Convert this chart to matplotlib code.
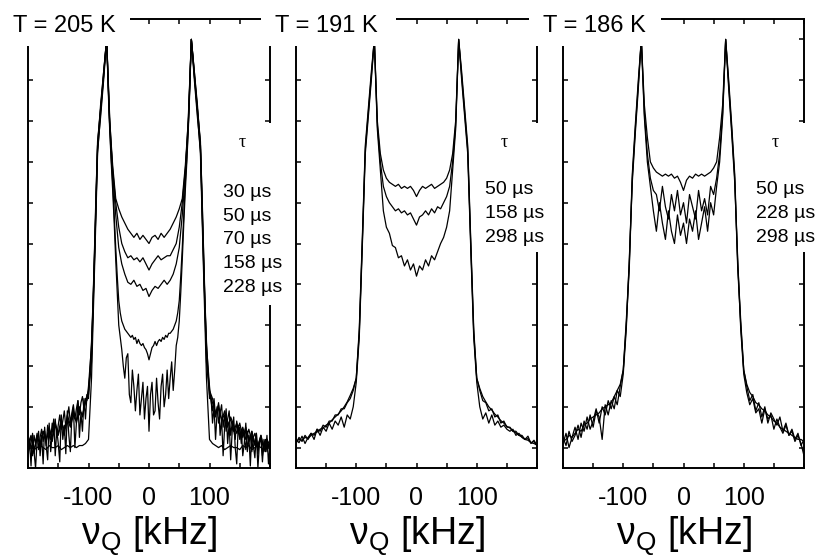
import numpy as np
import matplotlib
matplotlib.use("Agg")
import matplotlib.pyplot as plt
from matplotlib.patches import Rectangle

plt.rcParams['font.family'] = ['Liberation Sans', 'DejaVu Sans']
plt.rcParams['axes.unicode_minus'] = False

# frequency axes of the spectra (kHz): standard and fine sampling
freq_khz = np.arange(-200, 201, 5)
freq_fine_khz = np.arange(-200, 200.1, 2.5)

temperatures = ['T = 205 K', 'T = 191 K', 'T = 186 K']
x_tick_values = [-200, -150, -100, -50, 0, 50, 100, 150, 200]
x_tick_labels = ['', '', '-100', '', '0', '', '100', '', '']

# ---- T = 205 K ----
tau_205 = ['30 µs', '50 µs', '70 µs', '158 µs', '228 µs']
s205_30 = [0.000, 0.005, -0.005, 0.000, 0.005, 0.000, -0.005, 0.005, 0.000, 0.000,
           0.005, -0.005, 0.000, 0.005, 0.000, 0.005, 0.000, 0.005, 0.005, 0.010,
           0.02, 0.17, 0.44, 0.72, 0.82, 0.91, 1.00, 0.80, 0.69,
           0.61, 0.585, 0.565, 0.55, 0.535, 0.525, 0.515, 0.525, 0.51, 0.52, 0.51, 0.50,
           0.515, 0.52, 0.51, 0.525, 0.515, 0.525, 0.535, 0.55, 0.565, 0.585, 0.61,
           0.69, 0.80, 1.00, 0.91, 0.82, 0.72, 0.44, 0.17, 0.02,
           0.010, 0.005, 0.000, 0.005, -0.005, 0.000, 0.005, 0.000, 0.000, -0.005,
           0.005, 0.000, 0.005, -0.005, 0.000, 0.005, 0.000, -0.005, 0.005, 0.000]
s205_50 = [0.010, 0.030, -0.005, 0.025, 0.010, 0.040, 0.015, 0.045, 0.025, 0.055,
           0.030, 0.060, 0.045, 0.070, 0.050, 0.080, 0.065, 0.090, 0.080, 0.110,
           0.13, 0.21, 0.46, 0.74, 0.83, 0.92, 1.00, 0.79, 0.68,
           0.60, 0.54, 0.50, 0.48, 0.465, 0.47, 0.46, 0.465, 0.455, 0.465, 0.45, 0.435,
           0.45, 0.46, 0.47, 0.46, 0.465, 0.47, 0.47, 0.485, 0.50, 0.54, 0.60,
           0.68, 0.79, 1.00, 0.92, 0.83, 0.74, 0.46, 0.21, 0.13,
           0.110, 0.085, 0.095, 0.070, 0.080, 0.055, 0.070, 0.040, 0.060, 0.030,
           0.050, 0.020, 0.045, 0.015, 0.035, 0.005, 0.030, 0.000, 0.020, 0.005]
s205_70 = [0.000, 0.025, -0.015, 0.030, 0.005, 0.040, 0.020, 0.050, 0.015, 0.060,
           0.035, 0.070, 0.030, 0.080, 0.055, 0.090, 0.060, 0.100, 0.075, 0.115,
           0.14, 0.23, 0.47, 0.73, 0.81, 0.90, 1.00, 0.81, 0.67,
           0.57, 0.49, 0.45, 0.425, 0.405, 0.40, 0.41, 0.395, 0.40, 0.385, 0.39, 0.37,
           0.385, 0.395, 0.39, 0.40, 0.41, 0.40, 0.41, 0.425, 0.45, 0.49, 0.57,
           0.67, 0.81, 1.00, 0.90, 0.81, 0.73, 0.47, 0.23, 0.14,
           0.120, 0.080, 0.105, 0.065, 0.090, 0.050, 0.075, 0.055, 0.035, 0.060,
           0.025, 0.050, 0.015, 0.040, 0.010, 0.000, 0.030, -0.010, 0.020, -0.005]
# the two longest delays are sampled more finely (freq_fine_khz)
s205_158 = [-0.010, 0.020, 0.000, -0.020, 0.030, 0.010, 0.035, -0.005, 0.025, 0.045,
            0.015, 0.040, 0.005, 0.055, 0.030, 0.020, 0.060, 0.040, 0.070, 0.025,
            0.055, 0.080, 0.045, 0.065, 0.090, 0.050, 0.075, 0.100, 0.060, 0.085,
            0.105, 0.070, 0.095, 0.115, 0.080, 0.110, 0.125, 0.095, 0.120, 0.115,
            0.15, 0.20, 0.25, 0.35, 0.48, 0.62, 0.75, 0.79, 0.83, 0.87, 0.91, 0.96,
            1.00, 0.89, 0.79, 0.71, 0.65,
            0.57, 0.49, 0.42, 0.36, 0.33, 0.31, 0.30, 0.29, 0.285, 0.28, 0.275, 0.27,
            0.275, 0.265, 0.27, 0.255, 0.265, 0.255, 0.25, 0.255, 0.245, 0.24, 0.23,
            0.215,
            0.23, 0.245, 0.25, 0.26, 0.25, 0.26, 0.265, 0.26, 0.27, 0.265, 0.275,
            0.27, 0.28, 0.28, 0.285, 0.29, 0.30, 0.31, 0.33, 0.36, 0.42, 0.49, 0.57,
            0.65, 0.71, 0.79, 0.89, 1.00, 0.96, 0.91, 0.87, 0.83, 0.79, 0.75, 0.62,
            0.48, 0.35, 0.25, 0.20, 0.15,
            0.115, 0.090, 0.120, 0.075, 0.100, 0.060, 0.085, 0.105, 0.050, 0.080,
            0.040, 0.070, 0.090, 0.030, 0.060, 0.045, 0.020, 0.065, 0.035, 0.050,
            0.010, 0.045, 0.025, -0.005, 0.040, 0.015, 0.030, -0.010, 0.025, 0.005,
            0.035, -0.015, 0.015, 0.025, -0.020, 0.010, 0.020, -0.010, 0.005, 0.010]
s205_228 = [-0.030, 0.020, -0.045, 0.035, -0.010, -0.050, 0.015, 0.040, -0.020, 0.030,
            -0.040, 0.050, 0.005, -0.030, 0.060, -0.010, 0.035, 0.070, -0.020, 0.045,
            0.010, -0.035, 0.080, 0.020, 0.055, -0.015, 0.090, 0.030, -0.010, 0.075,
            0.100, 0.000, 0.060, 0.115, 0.025, 0.085, 0.040, 0.120, 0.070, 0.130,
            0.12, 0.19, 0.26, 0.36, 0.49, 0.63, 0.74, 0.79, 0.84, 0.88, 0.92, 0.96,
            1.00, 0.88, 0.78, 0.70, 0.63,
            0.55, 0.46, 0.38, 0.30, 0.27, 0.24, 0.20, 0.17, 0.22, 0.23, 0.13, 0.11,
            0.19, 0.15, 0.09, 0.14, 0.18, 0.08, 0.12, 0.16, 0.07, 0.12, 0.15,
            0.04,
            0.13, 0.16, 0.08, 0.09, 0.17, 0.11, 0.07, 0.15, 0.18, 0.10, 0.13,
            0.19, 0.12, 0.17, 0.21, 0.14, 0.19, 0.25, 0.27, 0.31, 0.38, 0.46, 0.55,
            0.63, 0.70, 0.78, 0.88, 1.00, 0.96, 0.92, 0.88, 0.84, 0.79, 0.74, 0.63,
            0.49, 0.36, 0.26, 0.19, 0.12,
            0.125, 0.060, 0.100, 0.020, 0.085, 0.110, 0.030, 0.070, -0.020, 0.050,
            0.095, 0.010, 0.060, -0.030, 0.040, 0.075, 0.000, -0.040, 0.055, 0.020,
            0.045, -0.020, 0.010, 0.060, -0.010, 0.030, -0.045, 0.040, 0.005, -0.025,
            0.035, -0.050, 0.010, 0.025, -0.035, 0.020, -0.010, 0.030, -0.040, 0.010]

# ---- T = 191 K ----
tau_191 = ['50 µs', '158 µs', '298 µs']
s191_50 = [0.015, 0.020, 0.018, 0.025, 0.022, 0.030, 0.035, 0.038, 0.045, 0.048,
           0.055, 0.060, 0.068, 0.075, 0.082, 0.090, 0.100, 0.112, 0.128, 0.145,
           0.17, 0.28, 0.50, 0.73, 0.82, 0.91, 1.00, 0.80, 0.72,
           0.68, 0.66, 0.65, 0.645, 0.64, 0.645, 0.635, 0.64, 0.635, 0.64, 0.63, 0.615,
           0.63, 0.64, 0.635, 0.64, 0.645, 0.635, 0.64, 0.645, 0.65, 0.66, 0.68,
           0.72, 0.80, 1.00, 0.91, 0.82, 0.73, 0.50, 0.28, 0.17,
           0.145, 0.125, 0.112, 0.100, 0.092, 0.082, 0.075, 0.066, 0.060, 0.052,
           0.048, 0.040, 0.036, 0.030, 0.026, 0.020, 0.018, 0.012, 0.010, 0.006]
s191_158 = [0.010, 0.025, 0.015, 0.030, 0.020, 0.035, 0.030, 0.045, 0.040, 0.055,
            0.050, 0.065, 0.065, 0.080, 0.080, 0.095, 0.095, 0.110, 0.120, 0.140,
            0.17, 0.29, 0.51, 0.74, 0.83, 0.92, 1.00, 0.79, 0.70,
            0.64, 0.615, 0.60, 0.59, 0.58, 0.585, 0.575, 0.58, 0.57, 0.575, 0.56, 0.545,
            0.565, 0.57, 0.58, 0.57, 0.585, 0.575, 0.59, 0.585, 0.60, 0.615, 0.64,
            0.70, 0.79, 1.00, 0.92, 0.83, 0.74, 0.51, 0.29, 0.17,
            0.140, 0.115, 0.110, 0.090, 0.095, 0.075, 0.080, 0.060, 0.065, 0.050,
            0.050, 0.040, 0.040, 0.030, 0.030, 0.020, 0.022, 0.012, 0.015, 0.005]
s191_298 = [0.020, 0.012, 0.028, 0.010, 0.025, 0.035, 0.020, 0.045, 0.030, 0.050,
            0.040, 0.060, 0.045, 0.065, 0.055, 0.075, 0.050, 0.080, 0.070, 0.100,
            0.16, 0.27, 0.49, 0.72, 0.81, 0.90, 1.00, 0.78, 0.68,
            0.58, 0.54, 0.525, 0.495, 0.49, 0.465, 0.47, 0.445, 0.46, 0.435, 0.45, 0.42,
            0.445, 0.435, 0.46, 0.445, 0.47, 0.46, 0.48, 0.50, 0.515, 0.54, 0.58,
            0.68, 0.78, 1.00, 0.90, 0.81, 0.72, 0.49, 0.27, 0.16,
            0.100, 0.070, 0.085, 0.060, 0.080, 0.055, 0.065, 0.050, 0.055, 0.045,
            0.040, 0.045, 0.030, 0.035, 0.025, 0.020, 0.028, 0.010, 0.018, 0.005]

# ---- T = 186 K ----
tau_186 = ['50 µs', '228 µs', '298 µs']
s186_50 = [0.015, 0.020, 0.030, 0.025, 0.035, 0.045, 0.040, 0.055, 0.060, 0.070,
           0.075, 0.080, 0.085, 0.095, 0.100, 0.105, 0.110, 0.125, 0.140, 0.155,
           0.19, 0.30, 0.44, 0.66, 0.78, 0.89, 1.00, 0.84, 0.76,
           0.70, 0.685, 0.675, 0.67, 0.665, 0.67, 0.665, 0.67, 0.66, 0.665, 0.65, 0.63,
           0.655, 0.665, 0.66, 0.67, 0.665, 0.67, 0.665, 0.67, 0.675, 0.685, 0.70,
           0.76, 0.84, 1.00, 0.89, 0.78, 0.66, 0.44, 0.30, 0.19,
           0.155, 0.135, 0.125, 0.110, 0.105, 0.095, 0.090, 0.080, 0.075, 0.065,
           0.060, 0.050, 0.045, 0.040, 0.035, 0.030, 0.025, 0.020, 0.020, 0.015]
s186_228 = [0.010, 0.035, 0.000, 0.025, 0.050, 0.020, 0.060, 0.040, 0.075, 0.045,
            0.065, 0.095, 0.060, 0.100, 0.080, 0.115, 0.095, 0.125, 0.105, 0.150,
            0.19, 0.31, 0.45, 0.67, 0.79, 0.90, 1.00, 0.82, 0.72,
            0.66, 0.63, 0.62, 0.58, 0.64, 0.59, 0.56, 0.62, 0.58, 0.63, 0.57, 0.60,
            0.55, 0.62, 0.59, 0.56, 0.63, 0.58, 0.61, 0.57, 0.64, 0.62, 0.66,
            0.72, 0.82, 1.00, 0.90, 0.79, 0.67, 0.45, 0.31, 0.19,
            0.150, 0.115, 0.130, 0.090, 0.110, 0.075, 0.100, 0.060, 0.085, 0.070,
            0.055, 0.075, 0.040, 0.060, 0.030, 0.045, 0.020, 0.035, 0.005, 0.020]
s186_298 = [0.025, 0.005, 0.040, 0.015, 0.030, 0.055, 0.025, 0.065, 0.045, 0.080,
            0.050, 0.090, 0.075, 0.020, 0.105, 0.080, 0.115, 0.095, 0.140, 0.125,
            0.18, 0.29, 0.46, 0.65, 0.77, 0.88, 1.00, 0.81, 0.70,
            0.64, 0.58, 0.53, 0.60, 0.55, 0.51, 0.58, 0.53, 0.50, 0.57, 0.52, 0.55,
            0.50, 0.56, 0.53, 0.58, 0.51, 0.55, 0.59, 0.53, 0.60, 0.57, 0.64,
            0.70, 0.81, 1.00, 0.88, 0.77, 0.65, 0.46, 0.29, 0.18,
            0.135, 0.105, 0.120, 0.085, 0.095, 0.060, 0.095, 0.070, 0.080, 0.045,
            0.070, 0.050, 0.035, 0.055, 0.030, 0.040, 0.015, 0.030, 0.010, -0.020]

panels = [
    (temperatures[0], tau_205, [s205_30, s205_50, s205_70, s205_158, s205_228]),
    (temperatures[1], tau_191, [s191_50, s191_158, s191_298]),
    (temperatures[2], tau_186, [s186_50, s186_228, s186_298]),
]

# ---- layout (pixel geometry of the 816 x 559 canvas) ----
W, H = 816, 559
fig = plt.figure(figsize=(W / 100, H / 100), dpi=100)


def fx(px):
    return px / W


def fy(py):
    return 1 - py / H


axes_x = [(28, 270), (296, 537), (563, 804)]
axes_top, axes_bottom = 19, 468
title_boxes = [(0, 130), (261, 396), (529, 661)]
title_x = [13, 275, 543]
legend_boxes = [(215, 290, 305), (480, 556, 252), (750, 816, 252)]
legend_x = [223, 485, 756]

for i, (title, taus, spectra) in enumerate(panels):
    left, right = axes_x[i]
    ax = fig.add_axes([fx(left), fy(axes_bottom), (right - left) / W,
                       (axes_bottom - axes_top) / H])
    for spec in spectra:
        f = freq_khz if len(spec) == len(freq_khz) else freq_fine_khz
        ax.plot(f, spec, color='black', lw=0.9)
    ax.set_xlim(-200, 200)
    ax.set_ylim(-0.05, 1.05)
    ax.set_xticks(x_tick_values)
    ax.set_xticklabels(x_tick_labels)
    ax.set_yticks(np.arange(0, 1.01, 0.1))
    ax.set_yticklabels([])
    ax.tick_params(direction='in', top=True, right=True, length=3.6, width=1.1,
                   labelsize=18, pad=13.0)
    for sp in ax.spines.values():
        sp.set_linewidth(1.4)
    ax.set_xlabel(r'$\mathregular{\nu_Q}$ [kHz]', fontsize=27)
    ax.xaxis.set_label_coords(0.5, -(545 - axes_bottom) / (axes_bottom - axes_top))
    ax.xaxis.label.set_va('baseline')

    # temperature heading sitting on the top frame line
    bx0, bx1 = title_boxes[i]
    fig.add_artist(Rectangle((fx(bx0), fy(46)), (bx1 - bx0) / W, 46 / H,
                             transform=fig.transFigure, facecolor='white',
                             edgecolor='none', zorder=2))
    fig.text(fx(title_x[i]), fy(32), title, fontsize=17, ha='left',
             va='baseline', zorder=3)

    # delay-time key
    lx0, lx1, ly1 = legend_boxes[i]
    fig.add_artist(Rectangle((fx(lx0), fy(ly1)), (lx1 - lx0) / W, (ly1 - 123) / H,
                             transform=fig.transFigure, facecolor='white',
                             edgecolor='none', zorder=2))
    fig.text(fx(legend_x[i] + 16), fy(147), 'τ', fontsize=13,
             family=['Liberation Serif', 'DejaVu Serif'], ha='left',
             va='baseline', zorder=3)
    for k, t in enumerate(taus):
        y_base = 197 + 23.7 * k if i == 0 else 194 + 24 * k
        fig.text(fx(legend_x[i]), fy(y_base), t, fontsize=14, ha='left',
                 va='baseline', zorder=3)

fig.savefig('out.png', dpi=100)
